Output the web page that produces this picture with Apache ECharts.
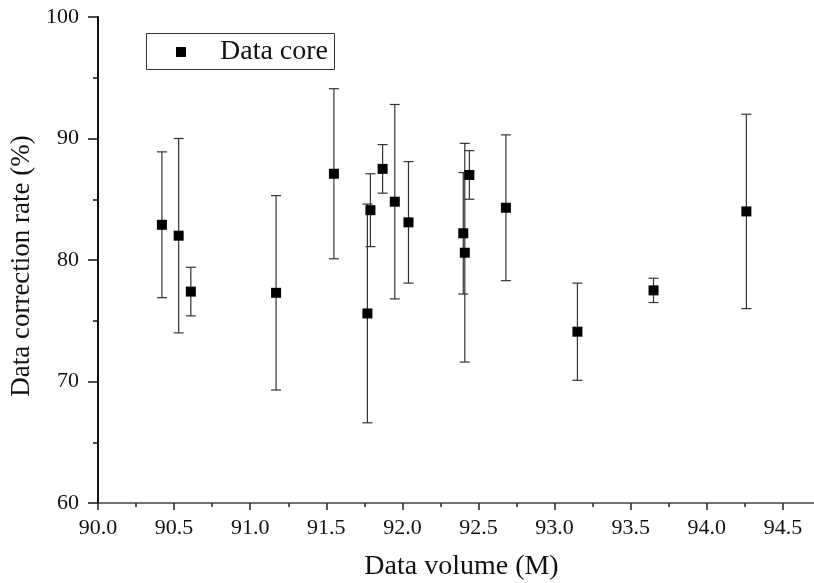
<!DOCTYPE html>
<html>
<head>
<meta charset="utf-8">
<script src="https://cdn.jsdelivr.net/npm/echarts@6/dist/echarts.min.js"></script>
<style>
  html, body { margin: 0; padding: 0; background: #fff; }
  #main { width: 814px; height: 583px; }
</style>
</head>
<body>
<div id="main"></div>
<script>
// data
var dataVolume = [90.42, 90.53, 90.61, 91.17, 91.55, 91.77, 91.79, 91.87, 91.95, 92.04, 92.40, 92.41, 92.44, 92.68, 93.15, 93.65, 94.26];
var correctionRate = [82.9, 82.0, 77.4, 77.3, 87.1, 75.6, 84.1, 87.5, 84.8, 83.1, 82.2, 80.6, 87.0, 84.3, 74.1, 77.5, 84.0];
var errorSize = [6, 8, 2, 8, 7, 9, 3, 2, 8, 5, 5, 9, 2, 6, 4, 1, 8];

var serif = 'Liberation Serif';

var points = dataVolume.map(function (x, i) { return [x, correctionRate[i]]; });
var bars = dataVolume.map(function (x, i) {
    return [x, correctionRate[i] - errorSize[i], correctionRate[i] + errorSize[i]];
});

var myChart = echarts.init(document.getElementById('main'));

option = {
    animation: false,
    // the x axis runs past the right edge of the picture, as in the original
    grid: { left: 98, top: 17, right: -45, bottom: 80, outerBoundsMode: 'none', containLabel: false },
    graphic: [{
        type: 'rect',
        shape: { x: 146.5, y: 33.5, width: 188, height: 36 },
        style: { fill: 'none', stroke: '#333', lineWidth: 1 },
        z: 5
    }],
    legend: {
        left: 171,
        top: 33,
        itemWidth: 10,
        itemHeight: 10,
        icon: 'rect',
        data: ['Data core'],
        textStyle: {
            fontFamily: serif,
            fontSize: 28,
            color: '#111',
            padding: [0, 0, 0, 29]
        }
    },
    xAxis: {
        type: 'value',
        min: 90,
        max: 95,
        interval: 0.5,
        name: 'Data volume (M)',
        nameLocation: 'middle',
        nameGap: 50,
        nameTextStyle: { fontFamily: serif, fontSize: 28, color: '#111', padding: [0, 34, 0, 0] },
        axisLine: { lineStyle: { color: '#444', width: 1.5 } },
        axisTick: { length: 7, lineStyle: { color: '#222', width: 1.5 } },
        minorTick: { show: true, splitNumber: 2, length: 4, lineStyle: { color: '#222', width: 1.5 } },
        splitLine: { show: false },
        axisLabel: {
            margin: 14,
            fontFamily: serif,
            fontSize: 22,
            color: '#111',
            formatter: function (v) { return v.toFixed(1); }
        }
    },
    yAxis: {
        type: 'value',
        min: 60,
        max: 100,
        interval: 10,
        name: 'Data correction rate (%)',
        nameLocation: 'middle',
        nameGap: 58,
        nameTextStyle: { fontFamily: serif, fontSize: 27, color: '#111', padding: [0, 12, 0, 0] },
        axisLine: { show: true, lineStyle: { color: '#111', width: 2 } },
        axisTick: { show: true, length: 10, lineStyle: { color: '#111', width: 1.5 } },
        minorTick: { show: true, splitNumber: 2, length: 5, lineStyle: { color: '#111', width: 1.5 } },
        splitLine: { show: false },
        axisLabel: {
            margin: 19,
            fontFamily: serif,
            fontSize: 22,
            color: '#111'
        }
    },
    series: [
        {
            type: 'custom',
            name: 'error',
            data: bars,
            renderItem: function (params, api) {
                var x = api.value(0);
                var lo = api.coord([x, api.value(1)]);
                var hi = api.coord([x, api.value(2)]);
                var w = 5;
                var style = { stroke: '#333', lineWidth: 1.2 };
                return {
                    type: 'group',
                    children: [
                        { type: 'line', shape: { x1: hi[0], y1: hi[1], x2: lo[0], y2: lo[1] }, style: style },
                        { type: 'line', shape: { x1: hi[0] - w, y1: hi[1], x2: hi[0] + w, y2: hi[1] }, style: style },
                        { type: 'line', shape: { x1: lo[0] - w, y1: lo[1], x2: lo[0] + w, y2: lo[1] }, style: style }
                    ]
                };
            },
            z: 2
        },
        {
            name: 'Data core',
            type: 'scatter',
            symbol: 'rect',
            symbolSize: 10,
            itemStyle: { color: '#000', opacity: 1 },
            data: points,
            z: 3
        }
    ]
};

myChart.setOption(option);
</script>
</body>
</html>
